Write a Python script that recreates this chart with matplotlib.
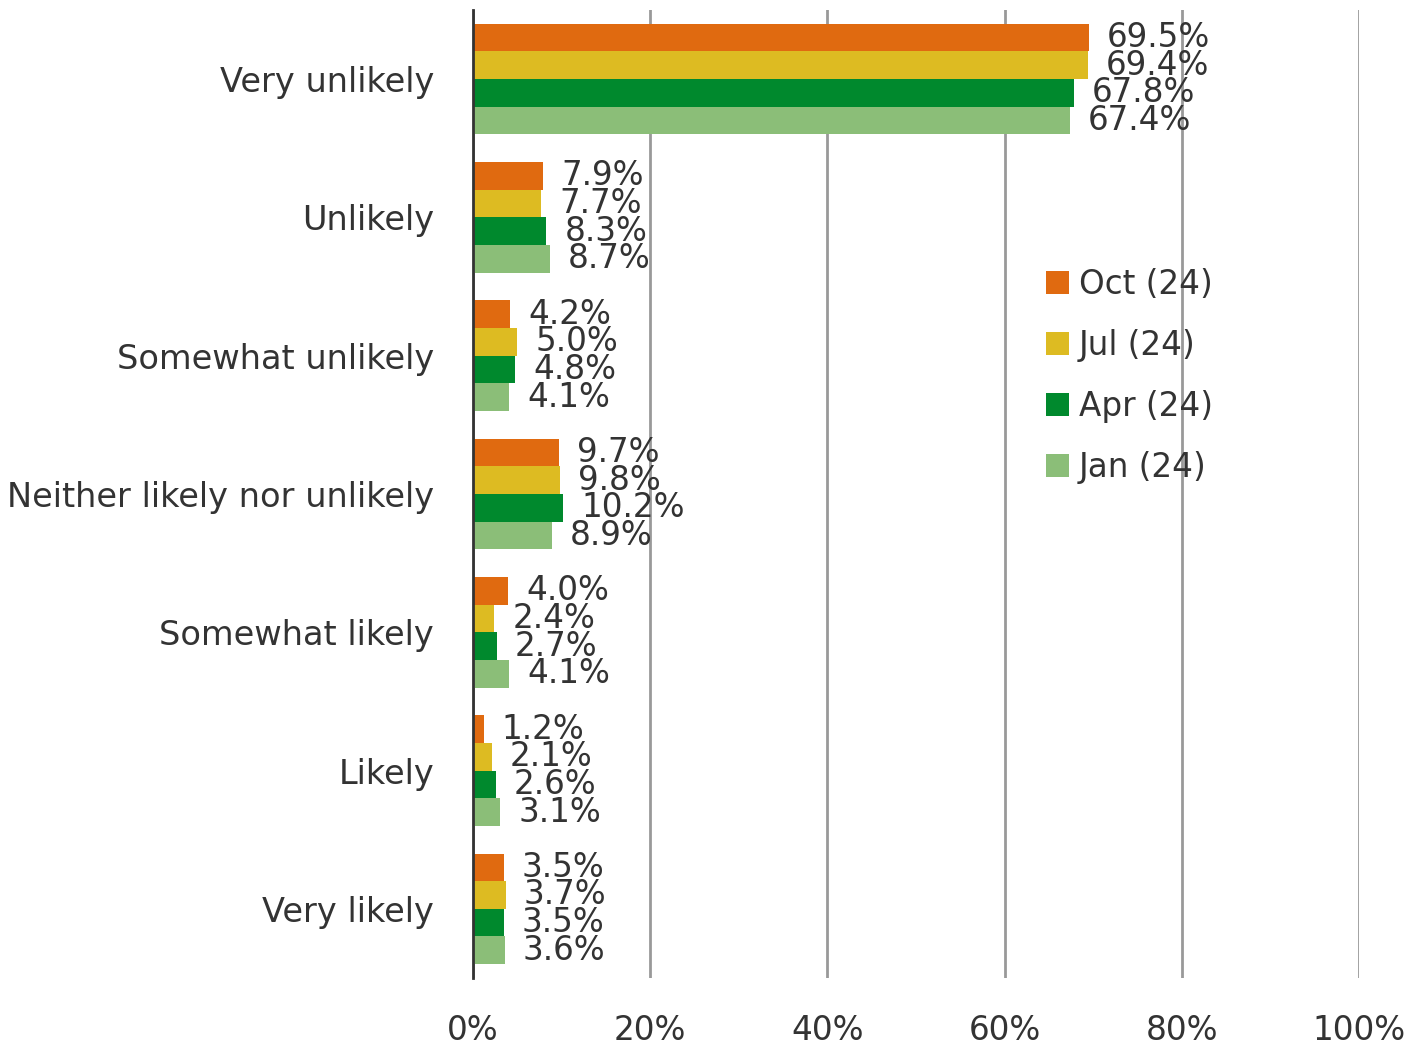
import matplotlib
matplotlib.use("Agg")
import matplotlib.pyplot as plt
import numpy as np

categories = ["Very unlikely", "Unlikely", "Somewhat unlikely", "Neither likely nor unlikely",
              "Somewhat likely", "Likely", "Very likely"]
series_names = ["Oct (24)", "Jul (24)", "Apr (24)", "Jan (24)"]
oct24 = [69.5, 7.9, 4.2, 9.7, 4.0, 1.2, 3.5]
jul24 = [69.4, 7.7, 5.0, 9.8, 2.4, 2.1, 3.7]
apr24 = [67.8, 8.3, 4.8, 10.2, 2.7, 2.6, 3.5]
jan24 = [67.4, 8.7, 4.1, 8.9, 4.1, 3.1, 3.6]
xticks = [0, 20, 40, 60, 80, 100]
xtick_labels = ["0%", "20%", "40%", "60%", "80%", "100%"]

colors = ["#E06A10", "#DDBB22", "#00892D", "#8BBE78"]
series = [oct24, jul24, apr24, jan24]
text_color = "#333333"
fs = 23.5

fig = plt.figure(figsize=(14.13, 10.51), dpi=100)
ax = fig.add_axes([0.3347, 0.0695, 0.6271, 0.921])

n = len(categories)
group_w = 0.8
bh = group_w / len(series)
y = np.arange(n)
for i, (vals, c, name) in enumerate(zip(series, colors, series_names)):
    pos = y - group_w / 2 + bh * (i + 0.5)
    ax.barh(pos, vals, height=bh, color=c, label=name, zorder=3)
    for p, v in zip(pos, vals):
        ax.annotate(f"{v:.1f}%", (v, p), xytext=(13, 0), textcoords="offset points",
                    va="center", ha="left", fontsize=fs, color=text_color, zorder=4)

ax.set_ylim(n - 0.5, -0.5)
ax.set_xlim(0, 100)
ax.set_yticks(y)
ax.set_yticklabels(categories, fontsize=24.2, color=text_color)
ax.set_xticks(xticks)
ax.set_xticklabels(xtick_labels, fontsize=fs, color=text_color)
ax.tick_params(axis="both", length=0)
ax.tick_params(axis="x", pad=26)
ax.tick_params(axis="y", pad=28)
ax.grid(axis="x", color="#999999", linewidth=2, zorder=0)
for s in ["top", "right", "bottom"]:
    ax.spines[s].set_visible(False)
ax.spines["left"].set_color("#333333")
ax.spines["left"].set_linewidth(2)
ax.spines["left"].set_zorder(5)

leg = ax.legend(loc="upper left", bbox_to_anchor=(0.632, 0.747), frameon=False,
                fontsize=fs, handlelength=0.7, handleheight=0.7, handletextpad=0.3,
                labelspacing=0.86, borderaxespad=0)
for t in leg.get_texts():
    t.set_color(text_color)

fig.savefig("out.png", dpi=100)
